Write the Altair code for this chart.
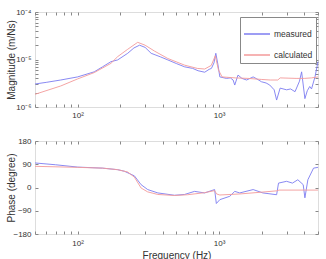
import altair as alt
import pandas as pd

FONT = "Liberation Sans"

# ---- Magnitude (m/Ns) ----
mag_meas_f = [50, 60, 76, 100, 131, 150, 172, 192, 226, 250, 274, 300, 331, 387, 434, 500, 571, 650, 710, 791,
              850, 883, 920, 948, 980, 1012, 1126, 1200, 1256, 1290, 1360, 1450, 1565, 1740, 1850, 1993, 2150,
              2280, 2450, 2550, 2700, 3000, 3200, 3440, 3700, 3830, 4040, 4200, 4370, 4500, 4760, 5000]
mag_meas_v = [3.05e-6, 3.3e-6, 3.7e-6, 4.3e-6, 5.5e-6, 7.0e-6, 9.0e-6, 9.8e-6, 1.35e-5, 1.75e-5, 2.0e-5, 1.8e-5,
              1.35e-5, 1.13e-5, 9.8e-6, 8.2e-6, 7.0e-6, 6.5e-6, 5.8e-6, 5.4e-6,
              6.2e-6, 6.5e-6, 8.5e-6, 1.35e-5, 8.0e-6, 4.3e-6, 4.0e-6, 4.1e-6, 3.7e-6, 2.9e-6, 4.7e-6, 4.0e-6,
              3.7e-6, 4.3e-6, 3.9e-6, 3.4e-6, 3.2e-6,
              2.9e-6, 2.3e-6, 1.4e-6, 2.5e-6, 2.3e-6, 2.4e-6, 2.1e-6, 3.5e-6, 5.5e-6, 1.5e-6, 2.2e-6, 2.7e-6,
              2.4e-6, 4.3e-6, 9.0e-6]
mag_calc_f = [50, 76, 100, 131, 172, 192, 226, 266, 300, 350, 434, 571, 700, 791, 880, 940, 990, 1050, 1300,
              1600, 2000, 2300, 2600, 2700, 3500, 4000, 4500, 5000]
mag_calc_v = [1.85e-6, 2.77e-6, 3.9e-6, 5.3e-6, 8.3e-6, 1.15e-5, 1.64e-5, 2.3e-5, 2.0e-5, 1.5e-5, 1.05e-5, 7.6e-6,
              6.5e-6, 6.3e-6, 7.5e-6, 1.2e-5, 6.0e-6, 4.3e-6, 4.1e-6,
              4.0e-6, 3.8e-6, 3.7e-6, 3.7e-6, 4.1e-6, 4.0e-6, 4.0e-6, 4.1e-6, 4.3e-6]

# ---- Phase (degree) ----
ph_meas_f = [50, 70, 100, 150, 192, 214, 252, 281, 313, 369, 484, 570, 671, 790, 930, 956, 1012, 1190, 1290,
             1400, 1740, 2040, 2550, 2630, 3000, 3300, 3600, 3930, 4040, 4240, 4650, 5000]
ph_meas_v = [95, 88, 79, 75, 69, 63, 45, 11, -8, -21, -30, -27, -15, -21, -8, -62, -47, -34, -15,
             -21, -8, -21, -28, 17, 24, 17, 30, 11, -40, 30, 75, 78]
ph_calc_f = [50, 100, 150, 192, 226, 252, 281, 313, 369, 484, 600, 790, 930, 960, 1012, 1400, 2000, 2550, 2650,
             4000, 5000]
ph_calc_v = [82, 78, 75, 69, 60, 40, -2, -17, -27, -31, -28, -20, -12, -25, -29, -25, -18, -13, -10,
             -10, -10]

series_names = ["measured", "calculated"]
series_colors = ["#7c7cf0", "#f39a9a"]

x_ticks = [50, 60, 70, 80, 90, 100, 200, 300, 400, 500, 600, 700, 800, 900, 1000, 2000, 3000, 4000, 5000]
mag_ticks = [k * 1e-6 for k in range(1, 10)] + [k * 1e-5 for k in range(1, 10)] + [1e-4]
ph_ticks = [-180, -90, 0, 90, 180]


def frame(f, v, name):
    return pd.DataFrame({"f": f, "v": v, "series": name})


mag_df = pd.concat([frame(mag_meas_f, mag_meas_v, series_names[0]),
                    frame(mag_calc_f, mag_calc_v, series_names[1])])
ph_df = pd.concat([frame(ph_meas_f, ph_meas_v, series_names[0]),
                   frame(ph_calc_f, ph_calc_v, series_names[1])])

TICK = "#888888"
LAB = "#333333"
xscale = alt.Scale(type="log", domain=[50, 5000], nice=False)
xlab = "datum.value == 100 ? '10²' : datum.value == 1000 ? '10³' : ''"
maglab = ("abs(log(datum.value)/LN10 - round(log(datum.value)/LN10)) < 0.001 ? "
          "(round(log(datum.value)/LN10) == -4 ? '10⁻⁴' : round(log(datum.value)/LN10) == -5 ? '10⁻⁵' : '10⁻⁶') : ''")


def axis(orient, values, labels, expr=None, title=None, **kw):
    args = dict(orient=orient, values=values, labels=labels, domain=False, grid=False, ticks=True,
                tickSize=3, offset=-3, tickColor=TICK, labelFont=FONT, labelFontSize=8, labelColor=LAB,
                labelOverlap=False, labelFlush=False, titleFont=FONT, titleFontSize=10,
                titleFontWeight="normal", titleColor=LAB, title=title)
    if expr is not None:
        args["labelExpr"] = expr
    args.update(kw)
    return alt.Axis(**args)


color_scale = alt.Scale(domain=series_names, range=series_colors)
legend = alt.Legend(orient="none", legendX=205, legendY=5, title=None, symbolType="stroke",
                    symbolSize=676, symbolOpacity=1, labelFont=FONT, labelFontSize=8.5,
                    labelColor=LAB, padding=3, strokeColor="#888888", fillColor="white",
                    rowPadding=2, labelOffset=3)


def panel(df, yscale, yvalues, ylab, ytitle, xtitle, show_legend, height, xpad):
    base = alt.Chart(df)
    main = base.mark_line(strokeWidth=0.9).encode(
        x=alt.X("f:Q", scale=xscale,
                axis=axis("bottom", x_ticks, True, xlab, xtitle, labelPadding=xpad, titlePadding=3)),
        y=alt.Y("v:Q", scale=yscale,
                axis=axis("left", yvalues, True, ylab, ytitle, labelPadding=4, titleX=-22)),
        color=alt.Color("series:N", scale=color_scale, sort=series_names,
                        legend=legend if show_legend else None),
        order=alt.Order("f:Q"),
        detail="series:N",
    )
    ghost = base.mark_line(opacity=0).encode(
        x=alt.X("f:Q", scale=xscale, axis=axis("top", x_ticks, False)),
        y=alt.Y("v:Q", scale=yscale, axis=axis("right", yvalues, False)),
        detail="series:N",
    )
    return alt.layer(main, ghost).resolve_axis(x="independent", y="independent").properties(
        width=283, height=height)


top = panel(mag_df, alt.Scale(type="log", domain=[1e-6, 1e-4], nice=False), mag_ticks, maglab,
            "Magnitude (m/Ns)", None, True, 95, 4)
bottom = panel(ph_df, alt.Scale(domain=[-180, 180], nice=False), ph_ticks, None,
               "Phase (degree)", "Frequency (Hz)", False, 93, 5)

chart = alt.vconcat(top, bottom, spacing=34, bounds="flush").resolve_legend(
    color="independent").properties(padding={"left": 5, "top": 7, "right": 2, "bottom": 0}).configure_view(
    stroke="#8a8a8a", strokeWidth=1).configure(background="white")

chart.save("out.html", embed_options={"renderer": "svg", "actions": False})
